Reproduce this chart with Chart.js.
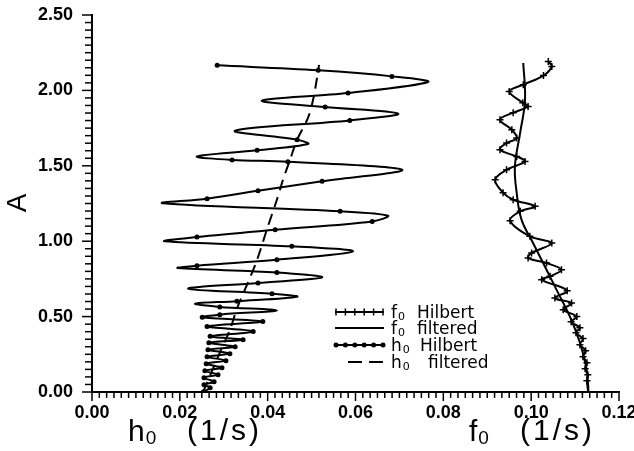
<!DOCTYPE html>
<html>
<head>
<meta charset="utf-8">
<script src="https://cdn.jsdelivr.net/npm/chart.js@4.4.1/dist/chart.umd.min.js"></script>
<style>
  body { margin: 0; background: #fff; }
  #wrap { width: 634px; height: 451px; position: relative; }
</style>
</head>
<body>
<div id="wrap"><canvas id="chart" width="634" height="451"></canvas></div>
<script>
// ==========================
// DATA
// ==========================
// h0 Hilbert: oscillating curve, bottom to top
const h0HilbertH = [0.0253, 0.0269, 0.0255, 0.0278, 0.0255, 0.0287, 0.0257, 0.0296, 0.0260, 0.0305,
    0.0262, 0.0314, 0.0264, 0.0326, 0.0266, 0.0344, 0.0269, 0.0367, 0.0262, 0.0389,
    0.0251, 0.0291, 0.0421, 0.0291, 0.0235, 0.0330, 0.0467, 0.0410, 0.0219, 0.0378,
    0.0524, 0.0421, 0.0196, 0.0239, 0.0421, 0.0594, 0.0455, 0.0166, 0.0239, 0.0417,
    0.0638, 0.0674, 0.0565, 0.0162, 0.0262, 0.0378, 0.0524, 0.0706, 0.0446, 0.0319,
    0.0239, 0.0376, 0.0492, 0.0467, 0.0326, 0.0587, 0.0697, 0.0531, 0.0387, 0.0583,
    0.0765, 0.0683, 0.0515, 0.0285];
const h0HilbertA = [0.000, 0.029, 0.048, 0.068, 0.095, 0.115, 0.141, 0.161, 0.188, 0.208,
    0.234, 0.254, 0.281, 0.300, 0.327, 0.347, 0.369, 0.402, 0.435, 0.468,
    0.495, 0.513, 0.541, 0.564, 0.586, 0.602, 0.632, 0.652, 0.685, 0.723,
    0.760, 0.793, 0.822, 0.838, 0.877, 0.932, 0.966, 0.999, 1.028, 1.076,
    1.131, 1.169, 1.198, 1.252, 1.282, 1.335, 1.397, 1.474, 1.527, 1.539,
    1.562, 1.603, 1.645, 1.673, 1.733, 1.801, 1.846, 1.890, 1.932, 1.983,
    2.056, 2.093, 2.133, 2.166];

// h0 filtered (dashed)
const h0FilteredH = [0.0253, 0.0262, 0.0291, 0.0314, 0.0332, 0.0355, 0.0376, 0.0398, 0.0421, 0.0435, 0.0451, 0.0467, 0.0492, 0.0505, 0.0517];
const h0FilteredA = [0.000, 0.062, 0.261, 0.413, 0.568, 0.725, 0.877, 1.076, 1.275, 1.408, 1.541, 1.673, 1.819, 1.960, 2.169];

// f0 Hilbert
const f0HilbertF = [0.1130, 0.1127, 0.1129, 0.1123, 0.1127, 0.1118, 0.1124, 0.1111, 0.1118, 0.1102,
    0.1111, 0.1091, 0.1104, 0.1073, 0.1092, 0.1054, 0.1082, 0.1024, 0.1043, 0.1069,
    0.1035, 0.0993, 0.1001, 0.1047, 0.0997, 0.0952, 0.0975, 0.1009, 0.0959, 0.0936,
    0.0918, 0.0944, 0.0986, 0.0967, 0.0929, 0.0944, 0.0967, 0.0956, 0.0929, 0.0959,
    0.0993, 0.0981, 0.0950, 0.0982, 0.1028, 0.1047, 0.1039];
const f0HilbertA = [0.000, 0.075, 0.115, 0.155, 0.194, 0.234, 0.274, 0.314, 0.354, 0.393,
    0.426, 0.466, 0.501, 0.546, 0.590, 0.623, 0.672, 0.745, 0.767, 0.811,
    0.855, 0.889, 0.922, 0.988, 1.032, 1.136, 1.198, 1.231, 1.275, 1.322,
    1.408, 1.474, 1.529, 1.562, 1.607, 1.651, 1.684, 1.739, 1.806, 1.852,
    1.894, 1.918, 1.993, 2.038, 2.098, 2.159, 2.192];

// f0 filtered
const f0FilteredF = [0.1130, 0.1130, 0.1125, 0.1111, 0.1088, 0.1061, 0.1035, 0.1004, 0.0978, 0.0967, 0.0963, 0.0975, 0.0986, 0.0982];
const f0FilteredA = [0.000, 0.037, 0.169, 0.327, 0.501, 0.659, 0.811, 0.990, 1.143, 1.322, 1.496, 1.720, 1.938, 2.182];

// axes
const xMin = 0, xMax = 0.12, xStep = 0.02, xMinorPerMajor = 12;
const yMin = 0, yMax = 2.5, yStep = 0.5, yMinorPerMajor = 10;

const legendItems = [
    { sym: "f", name: "Hilbert" },
    { sym: "f", name: "filtered" },
    { sym: "h", name: "Hilbert" },
    { sym: "h", name: "filtered" }
];

function toPoints(xs, ys) {
    return xs.map((x, i) => ({ x: x, y: ys[i] }));
}

const FONT = '"Liberation Sans", Arial, sans-serif';
const LFONT = '"DejaVu Sans", sans-serif';

// markers only on the samples, not on the sharp turning points higher up
function h0Radius(ctx) {
    const d = ctx.dataset.data;
    const i = ctx.dataIndex;
    if (i === 0 || i === d.length - 1) return 2.5;
    const p = d[i - 1].x, c = d[i].x, n = d[i + 1].x;
    const ext = (c > p && c > n) || (c < p && c < n);
    return (ext && d[i].y > 0.5) ? 0 : 2.5;
}

// ==========================
// TEXT WITH SUBSCRIPT
// ==========================
function drawSub(ctx, main, sub, x, y, size, family) {
    ctx.font = size + "px " + family;
    ctx.textAlign = "left";
    ctx.textBaseline = "alphabetic";
    ctx.fillText(main, x, y);
    const w = ctx.measureText(main).width;
    ctx.font = Math.round(size * 0.62) + "px " + family;
    ctx.fillText(sub, x + w + 1, y + size * 0.1);
}

// ==========================
// EXTRAS: ticks, titles, legend
// ==========================
const extras = {
    id: "extras",
    afterDraw(chart) {
        const ctx = chart.ctx;
        const xs = chart.scales.x, ys = chart.scales.y;
        const area = chart.chartArea;
        ctx.save();
        ctx.strokeStyle = "#000";
        ctx.fillStyle = "#000";

        // minor / major ticks
        ctx.lineWidth = 1.5;
        const nx = Math.round((xMax - xMin) / xStep) * xMinorPerMajor;
        for (let i = 0; i <= nx; i++) {
            const px = xs.getPixelForValue(xMin + i * (xMax - xMin) / nx);
            const len = i % xMinorPerMajor === 0 ? 9 : 6;
            ctx.beginPath();
            ctx.moveTo(px, area.bottom);
            ctx.lineTo(px, area.bottom + len);
            ctx.stroke();
        }
        const ny = Math.round((yMax - yMin) / yStep) * yMinorPerMajor;
        for (let i = 0; i <= ny; i++) {
            const py = ys.getPixelForValue(yMin + i * (yMax - yMin) / ny);
            const len = i % yMinorPerMajor === 0 ? 10 : 7;
            ctx.beginPath();
            ctx.moveTo(area.left - len, py);
            ctx.lineTo(area.left, py);
            ctx.stroke();
        }

        // axis titles
        drawSub(ctx, "h", "0", 128, 441, 30, FONT);
        drawSub(ctx, "f", "0", 469, 441, 30, FONT);
        ctx.font = "30px " + FONT;
        ctx.textAlign = "left";
        ctx.letterSpacing = "3px";
        ctx.fillText("(1/s)", 187, 440);
        ctx.fillText("(1/s)", 520, 440);
        ctx.letterSpacing = "0px";

        ctx.save();
        ctx.translate(18, 203);
        ctx.rotate(-Math.PI / 2);
        ctx.font = "28px " + FONT;
        ctx.textAlign = "center";
        ctx.textBaseline = "middle";
        ctx.fillText("A", 0, 0);
        ctx.restore();

        // legend
        const rowY = [312, 328, 345, 362];
        legendItems.forEach((item, k) => {
            const y = rowY[k];
            ctx.lineWidth = 2;
            ctx.setLineDash([]);
            if (k === 3) {
                ctx.setLineDash([14, 7]);
                ctx.beginPath();
                ctx.moveTo(348, y);
                ctx.lineTo(384, y);
                ctx.stroke();
                ctx.setLineDash([]);
            } else {
                ctx.beginPath();
                ctx.moveTo(335, y);
                ctx.lineTo(384, y);
                ctx.stroke();
            }
            if (k === 0) {
                ctx.lineWidth = 1.5;
                for (let m = 0; m < 6; m++) {
                    const mx = 336 + m * 9.4;
                    ctx.beginPath();
                    ctx.moveTo(mx, y - 3.5);
                    ctx.lineTo(mx, y + 3.5);
                    ctx.stroke();
                }
            }
            if (k === 2) {
                for (let m = 0; m < 6; m++) {
                    ctx.beginPath();
                    ctx.arc(336 + m * 9.4, y, 2.5, 0, Math.PI * 2);
                    ctx.fill();
                }
            }
            drawSub(ctx, item.sym, "0", 391, y + 6, 17, LFONT);
            ctx.font = "17px " + LFONT;
            ctx.textAlign = "left";
            ctx.fillText(item.name, k === 3 ? 428 : (k === 2 ? 420 : 417), y + 6);
        });

        ctx.restore();
    }
};

// ==========================
// CHART
// ==========================
new Chart(document.getElementById("chart"), {
    type: "scatter",
    data: {
        datasets: [
            {
                label: "f0 Hilbert",
                data: toPoints(f0HilbertF, f0HilbertA),
                showLine: true,
                borderColor: "#000",
                backgroundColor: "#000",
                borderWidth: 2,
                tension: 0.35,
                pointStyle: "cross",
                pointRadius: 3.5,
                pointBorderWidth: 1.5
            },
            {
                label: "f0 filtered",
                data: toPoints(f0FilteredF, f0FilteredA),
                showLine: true,
                borderColor: "#000",
                borderWidth: 2,
                tension: 0.4,
                pointRadius: 0
            },
            {
                label: "h0 Hilbert",
                data: toPoints(h0HilbertH, h0HilbertA),
                showLine: true,
                borderColor: "#000",
                backgroundColor: "#000",
                borderWidth: 2,
                tension: 0.35,
                pointStyle: "circle",
                pointRadius: h0Radius,
                pointBorderWidth: 0
            },
            {
                label: "h0 filtered",
                data: toPoints(h0FilteredH, h0FilteredA),
                showLine: true,
                borderColor: "#000",
                borderWidth: 2,
                borderDash: [11, 7],
                tension: 0.3,
                pointRadius: 0
            }
        ]
    },
    options: {
        responsive: false,
        animation: false,
        devicePixelRatio: 1,
        layout: { padding: { top: 15, right: 15, left: 0, bottom: 0 } },
        plugins: {
            legend: { display: false },
            tooltip: { enabled: false }
        },
        scales: {
            x: {
                type: "linear",
                min: xMin,
                max: xMax,
                grid: { display: false, drawTicks: false },
                border: { display: true, color: "#000", width: 2 },
                ticks: {
                    stepSize: xStep,
                    padding: 10,
                    color: "#000",
                    font: { family: "Liberation Sans", size: 18, weight: "bold" },
                    callback: v => v.toFixed(2)
                },
                afterFit: s => {
                    s.height = 59;
                    s.paddingLeft = 0;
                    s.paddingRight = 0;
                }
            },
            y: {
                type: "linear",
                min: yMin,
                max: yMax,
                grid: { display: false, drawTicks: false },
                border: { display: true, color: "#000", width: 2 },
                ticks: {
                    stepSize: yStep,
                    padding: 19,
                    color: "#000",
                    font: { family: "Liberation Sans", size: 18, weight: "bold" },
                    callback: v => v.toFixed(2)
                },
                afterFit: s => {
                    s.width = 92;
                    s.paddingTop = 0;
                    s.paddingBottom = 0;
                }
            }
        }
    },
    plugins: [extras]
});
</script>
</body>
</html>
